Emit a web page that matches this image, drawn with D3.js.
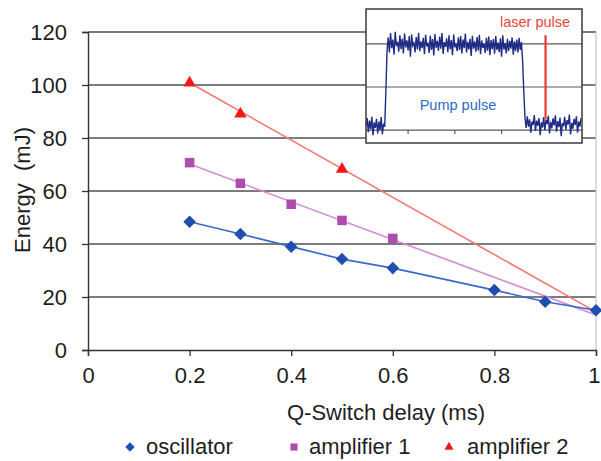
<!DOCTYPE html>
<html><head><meta charset="utf-8">
<script src="https://cdn.jsdelivr.net/npm/d3@7"></script>
<style>body{margin:0;background:#fff} svg{display:block}</style>
</head><body><svg id="c" width="601" height="461"></svg>
<script>
// ---------- data ----------
const oscDelays = [0.2, 0.3, 0.4, 0.5, 0.6, 0.8, 0.9, 1.0];
const oscillator = [48.4, 43.8, 39.0, 34.3, 30.9, 22.6, 18.2, 15.0];
const amp1Delays = [0.2, 0.3, 0.4, 0.5, 0.6];
const amplifier1 = [70.7, 62.9, 55.0, 48.9, 42.1];
const amp2Delays = [0.2, 0.3, 0.5];
const amplifier2 = [101.2, 89.5, 68.6];
const trendRange = [0.2, 1.0];
const yTicks = [0, 20, 40, 60, 80, 100, 120];
const xTicks = [0, 0.2, 0.4, 0.6, 0.8, 1];
const xTickLabels = ["0", "0.2", "0.4", "0.6", "0.8", "1"];
const seriesNames = ["oscillator", "amplifier 1", "amplifier 2"];
const xTitle = "Q-Switch delay (ms)";
const yTitle = "Energy  (mJ)";

// inset: pump pulse trace (arbitrary units), sampled at a fixed time step
const traceStart = -0.9, traceStep = 0.025;
const pumpTrace = [
 0.10,0.28,-0.05,0.22,0.02,0.31,-0.12,0.18,0.05,0.26,-0.08,0.20,0.00,0.30,-0.10,0.15,0.08,
 0.9,1.85,
 2.15,1.80,2.25,1.90,2.10,1.75,2.28,1.95,2.05,1.82,2.20,1.88,2.12,1.78,2.24,1.92,2.08,1.85,2.18,1.70,2.22,1.96,2.02,1.80,2.16,1.87,2.26,1.83,2.06,1.90,
 2.14,1.76,2.21,1.94,2.03,1.79,2.19,1.86,2.11,1.73,2.23,1.91,2.07,1.84,2.17,1.89,2.25,1.77,2.04,1.93,
 2.13,1.81,2.20,1.88,2.09,1.74,2.22,1.92,2.01,1.83,2.15,1.86,2.18,1.78,2.10,1.90,2.24,1.80,2.05,1.87,
 2.12,1.72,2.19,1.89,2.06,1.82,2.16,1.85,2.21,1.76,2.08,1.91,2.00,1.79,2.14,1.84,2.17,1.74,2.09,1.88,
 2.11,1.77,2.18,1.86,2.03,1.81,2.13,1.70,2.20,1.87,2.02,1.78,2.12,1.83,2.07,
 1.89,2.15,1.75,2.06,1.84,2.10,1.80,2.14,1.86,2.04,
 1.6,0.9,0.3,
 0.05,0.32,0.08,0.25,-0.06,0.20,0.12,0.35,-0.02,0.22,0.10,0.28,-0.12,0.18,0.06,0.30,0.00,0.24,0.14,0.33,-0.08,0.19,0.04,0.27,
 0.11,0.34,-0.04,0.21,0.07,0.29,-0.14,0.16,0.09,0.31,0.01,0.23,0.13,0.36,-0.10,0.17,0.03,0.26,0.12,0.32,-0.06,0.20,0.08,0.28
];
const laserTime = 2.94;
const laserLevels = [0.25, 2.2];
const insetGridLevels = [1, 2];
const insetTicks = [0, 1, 2];
const insetLabels = ["Pump pulse", "laser pulse"];

// ---------- drawing ----------
const svg = d3.select("#c");
const FONT = "'Liberation Sans', Arial, sans-serif";
const FS = 22;
const col = {
  oscM: "#1f4db0", oscL: "#3a68cc",
  a1M: "#b04cb0", a1L: "#d48ad8",
  a2M: "#ee1a1a", a2L: "#f27a72",
  grid: "#505050", text: "#1e1e1e"
};

const x = d3.scaleLinear().domain([0, 1]).range([88, 596]);
const y = d3.scaleLinear().domain([0, 120]).range([350, 32]);

svg.append("rect").attr("width", 601).attr("height", 461).attr("fill", "#fff");

// grid lines
svg.append("g").selectAll("line").data(yTicks.filter(d => d > 0)).join("line")
  .attr("x1", x(0)).attr("x2", x(1))
  .attr("y1", d => y(d)).attr("y2", d => y(d))
  .attr("stroke", col.grid).attr("stroke-width", 1.3);

// right border
svg.append("line").attr("x1", x(1)).attr("x2", x(1)).attr("y1", y(120)).attr("y2", y(0))
  .attr("stroke", "#c4c4c4").attr("stroke-width", 1.2);

// axes
const yAxis = d3.axisLeft(y).tickValues(yTicks).tickSize(6).tickPadding(15).tickFormat(d3.format("d"));
const gy = svg.append("g").attr("transform", `translate(${x(0)},0)`).call(yAxis);
const xAxis = d3.axisBottom(x).tickValues(xTicks).tickSize(6).tickPadding(12).tickFormat((d, i) => xTickLabels[i]);
const gx = svg.append("g").attr("transform", `translate(0,${y(0)})`).call(xAxis);
[gx, gy].forEach(g => {
  g.select(".domain").attr("stroke", "#333").attr("stroke-width", 1.4);
  g.selectAll(".tick line").attr("stroke", "#333").attr("stroke-width", 1.3);
  g.selectAll(".tick text").attr("font-family", FONT).attr("font-size", FS).attr("fill", col.text);
});
gy.selectAll(".tick text").attr("dy", "0.36em");
gx.selectAll(".tick text").attr("dy", "0.68em");
// last label sits at the window edge: keep it fully inside
gx.selectAll(".tick text").filter(d => d === 1).attr("text-anchor", "end").attr("dx", 4);

// regression trendline helper
function trend(xs, ys) {
  const mx = d3.mean(xs), my = d3.mean(ys);
  const sxy = d3.sum(xs, (v, i) => (v - mx) * (ys[i] - my));
  const sxx = d3.sum(xs, v => (v - mx) * (v - mx));
  const b = sxy / sxx, a = my - b * mx;
  return trendRange.map(t => [t, a + b * t]);
}
const line = d3.line().x(d => x(d[0])).y(d => y(d[1]));

svg.append("path").datum(trend(amp2Delays, amplifier2)).attr("d", line)
  .attr("fill", "none").attr("stroke", col.a2L).attr("stroke-width", 1.6);
svg.append("path").datum(trend(amp1Delays, amplifier1)).attr("d", line)
  .attr("fill", "none").attr("stroke", col.a1L).attr("stroke-width", 1.6);
svg.append("path").datum(oscDelays.map((d, i) => [d, oscillator[i]])).attr("d", line)
  .attr("fill", "none").attr("stroke", col.oscL).attr("stroke-width", 1.6);

const sym = {
  osc: d3.symbol().type(d3.symbolDiamond2).size(100),
  a1: d3.symbol().type(d3.symbolSquare2).size(115),
  a2: d3.symbol().type(d3.symbolTriangle2).size(110)
};
function markers(xs, ys, s, c, dy) {
  svg.append("g").selectAll("path").data(xs.map((d, i) => [d, ys[i]])).join("path")
    .attr("transform", d => `translate(${x(d[0])},${y(d[1]) + (dy || 0)})`)
    .attr("d", s).attr("fill", c).attr("stroke", "none");
}
markers(oscDelays, oscillator, sym.osc, col.oscM);
markers(amp1Delays, amplifier1, sym.a1, col.a1M);
markers(amp2Delays, amplifier2, sym.a2, col.a2M, 1);

// titles
svg.append("text").attr("x", 386).attr("y", 420).attr("text-anchor", "middle")
  .attr("font-family", FONT).attr("font-size", FS).attr("fill", col.text).text(xTitle);
svg.append("text").attr("transform", "translate(30,190) rotate(-90)").attr("text-anchor", "middle")
  .attr("font-family", FONT).attr("font-size", FS).attr("fill", col.text).style("white-space", "pre").text(yTitle);

// legend
const legendItems = [
  { name: seriesNames[0], s: d3.symbol().type(d3.symbolDiamond2).size(55), c: col.oscM, mx: 130, tx: 146 },
  { name: seriesNames[1], s: d3.symbol().type(d3.symbolSquare2).size(65), c: col.a1M, mx: 294, tx: 309 },
  { name: seriesNames[2], s: d3.symbol().type(d3.symbolTriangle2).size(60), c: col.a2M, mx: 449, tx: 467 }
];
const lg = svg.append("g");
legendItems.forEach(it => {
  lg.append("path").attr("d", it.s).attr("transform", `translate(${it.mx},447)`).attr("fill", it.c);
  lg.append("text").attr("x", it.tx).attr("y", 454).attr("font-family", FONT).attr("font-size", FS)
    .attr("fill", col.text).text(it.name);
});

// ---------- inset ----------
const ix = d3.scaleLinear().domain([-0.9, 3.72]).range([366, 582]);
const iy = d3.scaleLinear().domain([-0.3, 2.81]).range([143, 9]);
const inset = svg.append("g");
inset.append("rect").attr("x", 366).attr("y", 9).attr("width", 216).attr("height", 134)
  .attr("fill", "#fff");
inset.selectAll("line.g").data(insetGridLevels).join("line").attr("class", "g")
  .attr("x1", 366).attr("x2", 582).attr("y1", d => iy(d)).attr("y2", d => iy(d))
  .attr("stroke", "#5a5a5a").attr("stroke-width", 1.2);
inset.append("line").attr("x1", 366).attr("x2", 582).attr("y1", iy(0)).attr("y2", iy(0))
  .attr("stroke", "#5a5a5a").attr("stroke-width", 1.2);
inset.selectAll("line.t").data(insetTicks).join("line").attr("class", "t")
  .attr("x1", d => ix(d)).attr("x2", d => ix(d)).attr("y1", iy(0)).attr("y2", iy(0) + 4)
  .attr("stroke", "#5a5a5a").attr("stroke-width", 1.2);
const tline = d3.line().x((d, i) => ix(traceStart + i * traceStep)).y(d => iy(d));
inset.append("path").datum(pumpTrace).attr("d", tline).attr("fill", "none")
  .attr("stroke", "#1f2c86").attr("stroke-width", 1.4).attr("stroke-linejoin", "miter");
inset.append("line").attr("x1", ix(laserTime)).attr("x2", ix(laserTime))
  .attr("y1", iy(laserLevels[0])).attr("y2", iy(laserLevels[1]))
  .attr("stroke", "#ea3a32").attr("stroke-width", 2.2);
inset.append("rect").attr("x", 366).attr("y", 9).attr("width", 216).attr("height", 134)
  .attr("fill", "none").attr("stroke", "#3a3a3a").attr("stroke-width", 1.5);
inset.append("text").attr("x", 458).attr("y", 110).attr("text-anchor", "middle")
  .attr("font-family", FONT).attr("font-size", 14.5).attr("fill", "#2a6cc8").text(insetLabels[0]);
inset.append("text").attr("x", 535).attr("y", 27).attr("text-anchor", "middle")
  .attr("font-family", FONT).attr("font-size", 14.5).attr("fill", "#e8463c").text(insetLabels[1]);
</script></body></html>
